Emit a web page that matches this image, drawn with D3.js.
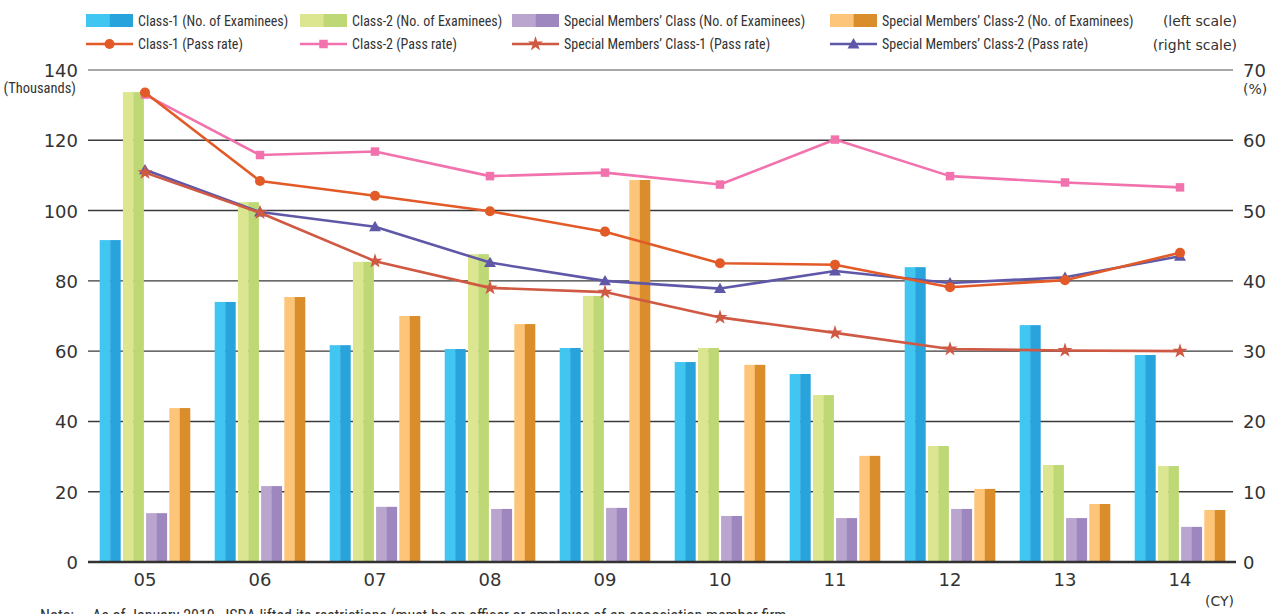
<!DOCTYPE html>
<html>
<head>
<meta charset="utf-8">
<script src="https://cdn.jsdelivr.net/npm/d3@7/dist/d3.min.js"></script>
<style>
  html, body { margin: 0; padding: 0; background: #fff; }
  svg { display: block; }
  .tick-label { font-family: "DejaVu Sans", sans-serif; font-size: 18px; fill: #333; }
  .narrow { font-family: "Liberation Sans Narrow", "Roboto Condensed", "Liberation Sans", sans-serif; fill: #333; }
  .scale-note { font-family: "DejaVu Sans", sans-serif; font-size: 14px; fill: #333; }
</style>
</head>
<body>
<svg id="chart" width="1279" height="614"></svg>
<script>
// Calendar years
const years = ["05", "06", "07", "08", "09", "10", "11", "12", "13", "14"];

// Number of examinees (thousands), left scale
const class1Examinees = [91.6, 74.0, 61.7, 60.6, 60.9, 56.9, 53.5, 83.9, 67.4, 58.9];
const class2Examinees = [133.7, 102.4, 85.4, 87.6, 75.7, 60.9, 47.5, 33.0, 27.6, 27.3];
const specialExaminees = [13.9, 21.6, 15.7, 15.1, 15.4, 13.1, 12.5, 15.1, 12.5, 10.0];
const special2Examinees = [43.8, 75.4, 70.0, 67.7, 108.7, 56.1, 30.2, 20.8, 16.5, 14.8];

// Pass rates (%), right scale
const class1Pass = [66.8, 54.2, 52.1, 49.9, 47.0, 42.5, 42.3, 39.1, 40.1, 44.0];
const class2Pass = [66.5, 57.9, 58.4, 54.9, 55.4, 53.7, 60.1, 54.9, 54.0, 53.3];
const special1Pass = [55.4, 49.7, 42.8, 39.0, 38.4, 34.8, 32.6, 30.3, 30.1, 30.0];
const special2Pass = [55.8, 49.8, 47.7, 42.6, 40.0, 38.9, 41.4, 39.7, 40.5, 43.5];

// Axis ticks
const leftTicks = [0, 20, 40, 60, 80, 100, 120, 140];
const rightTicks = [0, 10, 20, 30, 40, 50, 60, 70];

const barSeries = [
  { key: "c1", label: "Class-1 (No. of Examinees)", values: class1Examinees, light: "#41c6f2", dark: "#29a3dc" },
  { key: "c2", label: "Class-2 (No. of Examinees)", values: class2Examinees, light: "#dce690", dark: "#bdd874" },
  { key: "s1", label: "Special Members\u2019 Class (No. of Examinees)", values: specialExaminees, light: "#baa5ce", dark: "#9e87bf" },
  { key: "s2", label: "Special Members\u2019 Class-2 (No. of Examinees)", values: special2Examinees, light: "#fdc579", dark: "#d98d2b" }
];

const lineSeries = [
  { key: "l1", label: "Class-1 (Pass rate)", values: class1Pass, color: "#e25a27", marker: "circle" },
  { key: "l2", label: "Class-2 (Pass rate)", values: class2Pass, color: "#f172ad", marker: "square" },
  { key: "l3", label: "Special Members\u2019 Class-1 (Pass rate)", values: special1Pass, color: "#cf5943", marker: "star" },
  { key: "l4", label: "Special Members\u2019 Class-2 (Pass rate)", values: special2Pass, color: "#5f58a8", marker: "triangle" }
];

const svg = d3.select("#chart");

const plotLeft = 87.5, plotRight = 1237.5;
const yTop = 70, yBottom = 562;

const x = d3.scaleBand().domain(years).range([plotLeft, plotRight]).padding(0);
const xInner = d3.scaleBand().domain(barSeries.map(s => s.key)).range([-45.3, 45.3]).paddingInner(0.095).paddingOuter(0);
const yLeft = d3.scaleLinear().domain([0, 140]).range([yBottom, yTop]);
const yRight = d3.scaleLinear().domain([0, 70]).range([yBottom, yTop]);

// Gridlines
svg.append("g")
  .selectAll("line")
  .data(leftTicks.filter(d => d > 0))
  .join("line")
  .attr("x1", 88).attr("x2", 1233)
  .attr("y1", d => yLeft(d)).attr("y2", d => yLeft(d))
  .attr("stroke", d => d === 140 ? "#8a8a8a" : "#3a3a3a")
  .attr("stroke-width", 1.4);

// Left axis labels
const leftAxis = d3.axisLeft(yLeft).tickValues(leftTicks).tickSize(0).tickPadding(0);
const gL = svg.append("g").attr("transform", "translate(78,0)").call(leftAxis);
gL.select(".domain").remove();
gL.selectAll("text").attr("class", "tick-label").attr("dy", "0.36em").attr("fill", null);

// Right axis labels
const rightAxis = d3.axisRight(yRight).tickValues(rightTicks).tickSize(0).tickPadding(0);
const gR = svg.append("g").attr("transform", "translate(1243,0)").call(rightAxis);
gR.select(".domain").remove();
gR.selectAll("text").attr("class", "tick-label").attr("dy", "0.36em").attr("fill", null);

svg.append("text").attr("class", "narrow").attr("font-size", 14.5)
  .attr("x", 76).attr("y", 93).attr("text-anchor", "end").text("(Thousands)");
svg.append("text").attr("class", "scale-note").attr("font-size", 15)
  .attr("x", 1243).attr("y", 94).text("(%)");

// Bars: each drawn as a light left half and a darker right half
const groups = svg.append("g").selectAll("g")
  .data(years)
  .join("g")
  .attr("transform", d => `translate(${x(d) + x.bandwidth() / 2},0)`);

barSeries.forEach(s => {
  const bw = xInner.bandwidth();
  groups.append("rect")
    .attr("x", xInner(s.key))
    .attr("y", (d, i) => yLeft(s.values[i]))
    .attr("width", bw / 2 + 0.3)
    .attr("height", (d, i) => yLeft(0) - yLeft(s.values[i]))
    .attr("fill", s.light);
  groups.append("rect")
    .attr("x", xInner(s.key) + bw / 2)
    .attr("y", (d, i) => yLeft(s.values[i]))
    .attr("width", bw / 2)
    .attr("height", (d, i) => yLeft(0) - yLeft(s.values[i]))
    .attr("fill", s.dark);
});

// Baseline
svg.append("line")
  .attr("x1", 88).attr("x2", 1236)
  .attr("y1", yBottom).attr("y2", yBottom)
  .attr("stroke", "#333").attr("stroke-width", 2.6);

// Category labels
const bottomAxis = d3.axisBottom(x).tickSize(0).tickPadding(0);
const gB = svg.append("g").attr("transform", `translate(0,${yBottom})`).call(bottomAxis);
gB.select(".domain").remove();
gB.selectAll("text").attr("class", "tick-label").attr("y", 18).attr("dy", "0.36em").attr("fill", null);

svg.append("text").attr("class", "scale-note").attr("font-size", 15)
  .attr("x", 1234).attr("y", 606).attr("text-anchor", "end").text("(CY)");

// Marker shapes
function markerPath(type) {
  switch (type) {
    case "circle": return d3.symbol(d3.symbolCircle, 80)();
    case "square": return d3.symbol(d3.symbolSquare, 72)();
    case "star": return d3.symbol(d3.symbolStar, 70)();
    case "triangle": return d3.symbol(d3.symbolTriangle, 62)();
  }
}

// Pass-rate lines (drawn so the Class-1 line sits on top)
const drawOrder = ["l4", "l3", "l2", "l1"];
const cx = d => x(d) + x.bandwidth() / 2;
drawOrder.forEach(k => {
  const s = lineSeries.find(l => l.key === k);
  const line = d3.line().x((d, i) => cx(years[i])).y(d => yRight(d));
  svg.append("path")
    .datum(s.values)
    .attr("d", line)
    .attr("fill", "none")
    .attr("stroke", s.color)
    .attr("stroke-width", 2.6)
    .attr("stroke-linejoin", "round");
  svg.append("g").selectAll("path")
    .data(s.values)
    .join("path")
    .attr("d", markerPath(s.marker))
    .attr("transform", (d, i) => `translate(${cx(years[i])},${yRight(d) + (s.marker === "triangle" ? 1 : 0)})`)
    .attr("fill", s.color);
});

// Legend
const legendCols = [86, 300, 512, 830];
const swW = 47, swH = 13;
barSeries.forEach((s, i) => {
  const g = svg.append("g").attr("transform", `translate(${legendCols[i]},14)`);
  g.append("rect").attr("width", swW / 2 + 0.3).attr("height", swH).attr("fill", s.light);
  g.append("rect").attr("x", swW / 2).attr("width", swW / 2).attr("height", swH).attr("fill", s.dark);
  g.append("text").attr("class", "narrow").attr("font-size", 14)
    .attr("x", swW + 5).attr("y", 11.5).text(s.label);
});
lineSeries.forEach((s, i) => {
  const g = svg.append("g").attr("transform", `translate(${legendCols[i]},44)`);
  g.append("line").attr("x1", 0).attr("x2", swW).attr("stroke", s.color).attr("stroke-width", 2.6);
  g.append("path").attr("d", markerPath(s.marker))
    .attr("transform", `translate(${swW / 2},${s.marker === "triangle" ? 1 : 0})`)
    .attr("fill", s.color);
  g.append("text").attr("class", "narrow").attr("font-size", 14)
    .attr("x", swW + 5).attr("y", 5).text(s.label);
});
svg.append("text").attr("class", "scale-note").attr("font-size", 16)
  .attr("x", 1237).attr("y", 26).attr("text-anchor", "end").text("(left scale)");
svg.append("text").attr("class", "scale-note").attr("font-size", 16)
  .attr("x", 1237).attr("y", 50).attr("text-anchor", "end").text("(right scale)");

// Footnote (runs past the bottom edge)
svg.append("text").attr("class", "narrow").attr("font-size", 16)
  .attr("x", 40).attr("y", 621)
  .text("Note:\u00a0\u00a0\u00a0\u00a0 As of January 2010, JSDA lifted its restrictions (must be an officer or employee of an association member firm");
</script>
</body>
</html>
